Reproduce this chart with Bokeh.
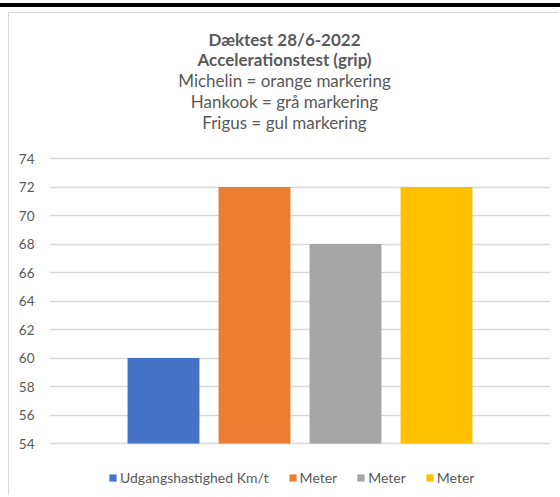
from bokeh.plotting import figure
from bokeh.models import Range1d, Label, Legend, LegendItem, FixedTicker
from bokeh.embed import file_html
from bokeh.resources import INLINE

# ---- data ----
series_names = ["Udgangshastighed Km/t", "Meter", "Meter", "Meter"]
series_values = [60, 72, 68, 72]
series_colors = ["#4472C4", "#ED7D31", "#A5A5A5", "#FFC000"]
y_ticks = [54, 56, 58, 60, 62, 64, 66, 68, 70, 72, 74]
title_lines = [
    ("Dæktest 28/6-2022", "bold"),
    ("Accelerationstest (grip)", "bold"),
    ("Michelin = orange markering", "normal"),
    ("Hankook = grå markering", "normal"),
    ("Frigus = gul markering", "normal"),
]

# ---- layout (page pixels) ----
FONT = "Lato"
TXT = "#595959"
GRID = "#D9D9D9"
W, H = 550, 483
CANVAS_TOP = 13                 # 12px margin + 1px border
CANVAS_BOTTOM = CANVAS_TOP + H
Y_TOP_PX, Y_BOT_PX = 158, 443   # where 74 and 54 sit on the page
ppu = (Y_BOT_PX - Y_TOP_PX) / (y_ticks[-1] - y_ticks[0])
y_hi = y_ticks[-1] + (Y_TOP_PX - CANVAS_TOP) / ppu
y_lo = y_ticks[0] - (CANVAS_BOTTOM - Y_BOT_PX) / ppu
title_centers = [39, 59, 80, 101, 122]
TITLE_X = 235                   # from frame left

p = figure(width=W, height=H, output_backend="svg", toolbar_location=None,
           x_range=Range1d(-1.253, 4.253), y_range=Range1d(y_lo, y_hi),
           min_border_left=40, min_border_right=9, min_border_top=0, min_border_bottom=0)
p.styles = {"margin-left": "8px", "margin-top": "12px",
            "border-left": "1px solid #D9D9D9", "border-top": "1px solid #D9D9D9",
            "box-shadow": "0 3px 0 8px #ffffff, 0 -1px 0 8px #000000"}
p.title.visible = False
p.outline_line_color = None
p.background_fill_color = "white"
p.border_fill_color = "white"

items = []
for i, (name, val, col) in enumerate(zip(series_names, series_values, series_colors)):
    r = p.vbar(x=[i], top=[val], bottom=y_ticks[0], width=0.79, fill_color=col, line_color=None)
    items.append(LegendItem(label=name, renderers=[r]))

p.xaxis.visible = False
p.xgrid.visible = False
p.yaxis.ticker = FixedTicker(ticks=y_ticks)
p.yaxis.axis_line_color = None
p.yaxis.major_tick_line_color = None
p.yaxis.minor_tick_line_color = None
p.yaxis.major_label_text_font = FONT
p.yaxis.major_label_text_font_size = "13.5px"
p.yaxis.major_label_text_color = TXT
p.yaxis.major_label_standoff = 9
p.ygrid.grid_line_color = GRID
p.ygrid.grid_line_width = 1.3

legend = Legend(items=items, orientation="horizontal",
                location=(59, CANVAS_BOTTOM - 478 - 8),
                glyph_width=9, glyph_height=9, label_standoff=3, spacing=19,
                label_text_font=FONT, label_text_font_size="14px", label_text_color=TXT,
                border_line_color=None, background_fill_alpha=0, padding=0, margin=0)
p.add_layout(legend, "center")

for (txt, style), cy in zip(title_lines, title_centers):
    p.add_layout(Label(x=TITLE_X, y=CANVAS_BOTTOM - cy, x_units="screen", y_units="screen",
                       text=txt, text_align="center", text_baseline="middle",
                       text_font=FONT, text_font_size="17px", text_font_style=style,
                       text_color=TXT))

open("out.html", "w").write(file_html(p, INLINE))
